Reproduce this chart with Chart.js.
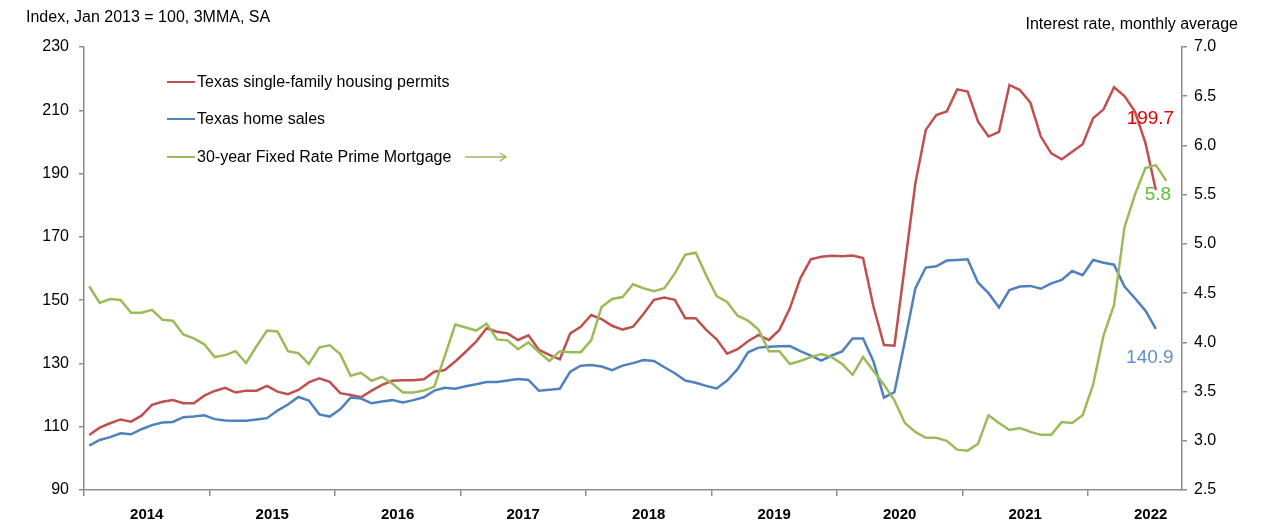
<!DOCTYPE html>
<html>
<head>
<meta charset="utf-8">
<title>Texas permits, home sales and mortgage rate</title>
<script src="https://cdn.jsdelivr.net/npm/chart.js"></script>
<style>
  body { margin: 0; background: #fff; font-family: "Liberation Sans", Arial, sans-serif; }
  .wrap { position: relative; width: 1264px; height: 524px; }
  .axis-title { position: absolute; font-size: 16px; color: #000; white-space: nowrap; }
  #leftTitle { left: 26px; top: 8px; }
  #rightTitle { right: 26px; top: 15px; }
  #legend { position: absolute; left: 167px; top: 63px; }
  .legend-item { display: flex; align-items: center; height: 37.5px; font-size: 16px; color: #000; white-space: nowrap; }
  .legend-swatch { display: inline-block; width: 28px; height: 2px; margin-right: 2px; }
  .legend-arrow { margin-left: 14px; }
</style>
</head>
<body>
<div class="wrap">
  <canvas id="chart" width="1264" height="524"></canvas>
  <div class="axis-title" id="leftTitle">Index, Jan 2013 = 100, 3MMA, SA</div>
  <div class="axis-title" id="rightTitle">Interest rate, monthly average</div>
  <div id="legend"></div>
</div>
<script>
// year labels; the axis runs monthly from Jan 2014 to Sep 2022
const years = ['2014', '2015', '2016', '2017', '2018', '2019', '2020', '2021', '2022'];
const monthCount = 105;

// Texas single-family housing permits, index (Jan 2014 onward)
const permits = [
  107.4, 109.7, 111.1, 112.3, 111.6, 113.5, 116.9, 117.9, 118.4, 117.4, 117.4, 119.8,
  121.3, 122.3, 120.8, 121.4, 121.4, 122.9, 121.1, 120.3, 121.6, 124.0, 125.3, 124.2,
  120.6, 120.0, 119.3, 121.4, 123.2, 124.5, 124.7, 124.7, 125.0, 127.4, 127.9, 130.6,
  133.7, 136.9, 141.1, 140.0, 139.5, 137.4, 138.9, 134.3, 132.7, 131.3, 139.5, 141.6,
  145.3, 144.0, 141.9, 140.7, 141.6, 145.6, 150.1, 150.8, 150.1, 144.3, 144.3, 140.6,
  137.6, 133.1, 134.5, 137.0, 139.0, 137.4, 140.6, 147.4, 156.9, 162.9, 163.7, 164.0,
  163.9, 164.1, 163.3, 147.9, 135.8, 135.6, 161.1, 186.9, 203.8, 208.5, 209.6, 216.6,
  215.9, 206.4, 201.7, 203.2, 218.0, 216.4, 212.4, 201.7, 196.4, 194.5, 196.9, 199.3,
  207.5, 210.3, 217.3, 214.5, 209.6, 199.7, 184.8
];

// Texas home sales, index
const homeSales = [
  104.0, 105.8, 106.7, 107.9, 107.6, 109.2, 110.5, 111.3, 111.5, 113.0, 113.2, 113.6,
  112.4, 112.0, 111.9, 111.9, 112.3, 112.7, 115.1, 117.0, 119.4, 118.3, 113.9, 113.2,
  115.5, 119.2, 118.9, 117.4, 118.0, 118.4, 117.7, 118.4, 119.3, 121.4, 122.3, 122.0,
  122.8, 123.4, 124.1, 124.1, 124.6, 125.1, 124.8, 121.4, 121.7, 122.0, 127.4, 129.3,
  129.5, 129.0, 127.9, 129.3, 130.1, 131.1, 130.8, 128.8, 126.9, 124.6, 123.9, 122.9,
  122.1, 124.6, 128.2, 133.5, 135.0, 135.3, 135.4, 135.5, 133.9, 132.5, 130.9, 132.5,
  133.8, 137.9, 137.9, 130.6, 119.2, 120.9, 137.0, 153.7, 160.3, 160.7, 162.5, 162.7,
  162.9, 155.5, 152.2, 147.7, 153.2, 154.3, 154.5, 153.6, 155.3, 156.4, 159.2, 157.9,
  162.7, 161.8, 161.2, 154.3, 150.6, 146.7, 140.9
];

// 30-year fixed rate prime mortgage, percent
const mortgageRate = [
  4.57, 4.40, 4.44, 4.43, 4.30, 4.30, 4.33, 4.23, 4.22, 4.08, 4.04, 3.98,
  3.85, 3.87, 3.91, 3.79, 3.96, 4.12, 4.11, 3.91, 3.89, 3.78, 3.95, 3.97,
  3.88, 3.66, 3.69, 3.61, 3.65, 3.58, 3.49, 3.49, 3.51, 3.55, 3.86, 4.18,
  4.15, 4.12, 4.19, 4.03, 4.02, 3.93, 4.00, 3.90, 3.81, 3.91, 3.90, 3.90,
  4.02, 4.36, 4.44, 4.46, 4.59, 4.55, 4.52, 4.55, 4.70, 4.89, 4.91, 4.68,
  4.47, 4.41, 4.27, 4.22, 4.13, 3.91, 3.91, 3.78, 3.81, 3.85, 3.88, 3.85,
  3.78, 3.67, 3.85, 3.71, 3.57, 3.41, 3.18, 3.09, 3.03, 3.03, 3.00, 2.91,
  2.90, 2.97, 3.26, 3.18, 3.11, 3.13, 3.09, 3.06, 3.06, 3.19, 3.18, 3.26,
  3.57, 4.07, 4.38, 5.17, 5.50, 5.77, 5.80, 5.64
];

const seriesNames = ['Texas single-family housing permits', 'Texas home sales', '30-year Fixed Rate Prime Mortgage'];
const seriesColors = ['#C0504D', '#4F81BD', '#9BBB59'];

const axisGray = '#8c8c8c';
const tickFont = { family: "'Liberation Sans', Arial, sans-serif", size: 16 };
const yearFont = { family: "'Liberation Sans Narrow', 'Liberation Sans', Arial, sans-serif", size: 15, weight: 'bold' };

// each month sits in the middle of its slot on the axis
function toPoints(values) {
  return values.map((v, i) => ({ x: i + 0.5, y: v }));
}

// value callouts next to the latest readings
const callouts = [
  { dataset: 0, index: 101, color: '#E00000', dx: 5, dy: -24 },
  { dataset: 2, index: 102, color: '#5FBF3A', dx: 2, dy: 30 },
  { dataset: 1, index: 102, color: '#5A8FD0', dx: -6, dy: 29 }
];

const calloutPlugin = {
  id: 'callouts',
  afterDatasetsDraw(chart) {
    const ctx = chart.ctx;
    ctx.save();
    ctx.font = "19px 'Liberation Sans Narrow', 'Liberation Sans', Arial, sans-serif";
    ctx.textAlign = 'center';
    ctx.textBaseline = 'middle';
    callouts.forEach(c => {
      const ds = chart.data.datasets[c.dataset];
      const pt = ds.data[c.index];
      const xs = chart.scales.x, ys = chart.scales[ds.yAxisID];
      ctx.fillStyle = c.color;
      ctx.fillText(pt.y.toFixed(1), xs.getPixelForValue(pt.x) + c.dx, ys.getPixelForValue(pt.y) + c.dy);
    });
    ctx.restore();
  }
};

const chart = new Chart(document.getElementById('chart'), {
  type: 'line',
  data: {
    datasets: [
      { label: seriesNames[0], data: toPoints(permits), yAxisID: 'y', borderColor: seriesColors[0], order: 2 },
      { label: seriesNames[1], data: toPoints(homeSales), yAxisID: 'y', borderColor: seriesColors[1], order: 1 },
      { label: seriesNames[2], data: toPoints(mortgageRate), yAxisID: 'y1', borderColor: seriesColors[2], order: 0 }
    ]
  },
  options: {
    responsive: false,
    animation: false,
    devicePixelRatio: 1,
    layout: { padding: { top: 47, left: 0, right: 0, bottom: 0 } },
    elements: {
      line: { borderWidth: 2.5, tension: 0, fill: false },
      point: { radius: 0, hoverRadius: 0 }
    },
    plugins: {
      legend: { display: false },
      tooltip: { enabled: false }
    },
    scales: {
      x: {
        type: 'linear',
        min: 0,
        max: monthCount,
        afterBuildTicks: (scale) => {
          const t = [];
          for (let v = 0; v < monthCount; v += 6) t.push({ value: v });
          scale.ticks = t;
        },
        ticks: {
          autoSkip: false,
          maxRotation: 0,
          padding: 10,
          color: '#000',
          font: yearFont,
          callback: (v) => (v % 12 === 6 ? years[(v - 6) / 12] : '')
        },
        grid: {
          drawOnChartArea: false,
          tickLength: 6,
          lineWidth: 1.5,
          color: (c) => (c.tick && c.tick.value % 12 === 0 ? axisGray : 'rgba(0,0,0,0)')
        },
        border: { color: axisGray, width: 1.5 },
        afterFit: (scale) => { scale.height = 34; }
      },
      y: {
        position: 'left',
        min: 90,
        max: 230,
        ticks: { stepSize: 20, padding: 10, color: '#000', font: tickFont },
        grid: { drawOnChartArea: false, tickLength: 5, lineWidth: 1.5, color: axisGray },
        border: { color: axisGray, width: 1.5 },
        afterFit: (scale) => { scale.width = 84; }
      },
      y1: {
        position: 'right',
        min: 2.5,
        max: 7,
        ticks: { stepSize: 0.5, padding: 7, color: '#000', font: tickFont, callback: (v) => v.toFixed(1) },
        grid: { drawOnChartArea: false, tickLength: 5, lineWidth: 1.5, color: axisGray },
        border: { color: axisGray, width: 1.5 },
        afterFit: (scale) => { scale.width = 82; }
      }
    }
  },
  plugins: [calloutPlugin]
});

// legend block inside the plot, arrow on the rate entry points to the right axis
const legendBox = document.getElementById('legend');
chart.data.datasets.forEach((ds, i) => {
  const row = document.createElement('div');
  row.className = 'legend-item';
  row.innerHTML = '<span class="legend-swatch" style="background:' + ds.borderColor + '"></span>' + ds.label;
  if (ds.yAxisID === 'y1') {
    row.innerHTML += '<svg class="legend-arrow" width="44" height="12" viewBox="0 0 44 12">' +
      '<line x1="0" y1="6" x2="40" y2="6" stroke="' + ds.borderColor + '" stroke-width="1.5"/>' +
      '<polyline points="35,2 41,6 35,10" fill="none" stroke="' + ds.borderColor + '" stroke-width="1.5"/></svg>';
  }
  legendBox.appendChild(row);
});
</script>
</body>
</html>
